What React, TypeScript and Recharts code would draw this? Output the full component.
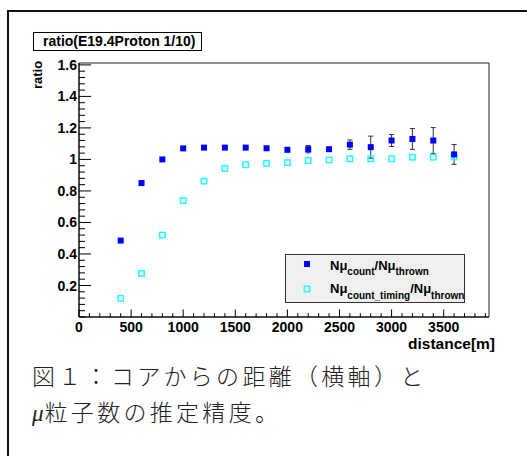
import React from 'react';
import { ScatterChart, Scatter, XAxis, YAxis, ErrorBar, ReferenceArea, Legend } from 'recharts';

// ---- data ----
const distances = [400, 600, 800, 1000, 1200, 1400, 1600, 1800, 2000, 2200, 2400, 2600, 2800, 3000, 3200, 3400, 3600];
const ratioCount = [0.485, 0.85, 1.0, 1.07, 1.075, 1.075, 1.075, 1.071, 1.061, 1.065, 1.065, 1.094, 1.078, 1.12, 1.13, 1.12, 1.032];
const ratioCountErr = [0, 0, 0, 0, 0, 0, 0, 0, 0, 0.023, 0.01, 0.03, 0.07, 0.038, 0.066, 0.082, 0.063];
const ratioCountTiming = [0.118, 0.276, 0.52, 0.738, 0.862, 0.942, 0.966, 0.975, 0.98, 0.993, 0.997, 1.004, 1.004, 1.004, 1.014, 1.014, 1.016];

const xMajorTicks = [0, 500, 1000, 1500, 2000, 2500, 3000, 3500];
const xTickLabels = ['0', '500', '1000', '1500', '2000', '2500', '3000', '3500'];
const yMajorTicks = [0.2, 0.4, 0.6, 0.8, 1.0, 1.2, 1.4, 1.6];
const yTickLabels = ['0.2', '0.4', '0.6', '0.8', '1', '1.2', '1.4', '1.6'];

const X_MAX = 3935;
const Y_MAX = 1.612;
const X_MINOR_STEP = 100;
const Y_MINOR_STEP = 0.04;

const xAllTicks = Array.from({ length: Math.floor(X_MAX / X_MINOR_STEP) + 1 }, (_, i) => i * X_MINOR_STEP);
const yAllTicks = Array.from({ length: 41 }, (_, i) => Math.round(i * Y_MINOR_STEP * 1000) / 1000);

const countData = distances.map((d, i) => ({ x: d, y: ratioCount[i], err: ratioCountErr[i] }));
const timingData = distances.map((d, i) => ({ x: d, y: ratioCountTiming[i] }));

const FONT = '"Liberation Sans", Arial, Helvetica, sans-serif';

function XTick(props: any) {
  const { x, y, payload } = props;
  const v = payload.value;
  const idx = xMajorTicks.indexOf(v);
  const major = idx >= 0;
  return (
    <g>
      <line x1={x} x2={x} y1={y} y2={y - (major ? 7.5 : 3.8)} stroke="#000" strokeWidth={1} />
      {major && (
        <text x={x} y={y + 15} textAnchor="middle" fontFamily={FONT} fontWeight="bold" fontSize={14} fill="#000">
          {xTickLabels[idx]}
        </text>
      )}
    </g>
  );
}

function YTick(props: any) {
  const { x, y, payload } = props;
  const v = payload.value;
  const idx = yMajorTicks.findIndex((m) => Math.abs(m - v) < 1e-6);
  const major = idx >= 0;
  return (
    <g>
      <line x1={x} x2={x + (major ? 12 : 6)} y1={y} y2={y} stroke="#000" strokeWidth={1} />
      {major && (
        <text x={x - 2} y={y} dy="0.36em" textAnchor="end" fontFamily={FONT} fontWeight="bold" fontSize={14} fill="#000">
          {yTickLabels[idx]}
        </text>
      )}
    </g>
  );
}

function BlueSquare(props: any) {
  const { cx, cy } = props;
  return <rect x={cx - 3} y={cy - 3} width={6} height={6} fill="#0000ff" />;
}

function CyanSquare(props: any) {
  const { cx, cy } = props;
  return <rect x={cx - 2.7} y={cy - 2.7} width={5.4} height={5.4} fill="none" stroke="#22ffff" strokeWidth={1.5} />;
}

function LegendBox() {
  const main = { fontFamily: FONT, fontWeight: 'bold' as const, fontSize: 13, fill: '#000' };
  return (
    <svg width={180} height={49} style={{ display: 'block' }}>
      <rect x={0.5} y={0.5} width={179} height={48} fill="#f0f0f0" stroke="#333" strokeWidth={1} />
      <rect x={19} y={7} width={6} height={6} fill="#0000ff" />
      <rect x={19.3} y={32.3} width={5.4} height={5.4} fill="none" stroke="#22ffff" strokeWidth={1.5} />
      <text x={45} y={16} {...main}>
        <tspan>Nμ</tspan>
        <tspan fontSize={10} dy={5}>count</tspan>
        <tspan dy={-5}>/Nμ</tspan>
        <tspan fontSize={10} dy={5}>thrown</tspan>
      </text>
      <text x={45} y={39} {...main}>
        <tspan>Nμ</tspan>
        <tspan fontSize={10} dy={6}>count_timing</tspan>
        <tspan dy={-6}>/Nμ</tspan>
        <tspan fontSize={10} dy={6}>thrown</tspan>
      </text>
    </svg>
  );
}

export default function App() {
  return (
    <div style={{ position: 'absolute', left: 0, top: 0, width: 527, height: 456, background: '#fff', overflow: 'hidden' }}>
      {/* outer page border */}
      <div style={{ position: 'absolute', left: 7, top: 10, width: 2, height: 446, background: '#111' }} />
      <div style={{ position: 'absolute', left: 7, top: 10, width: 520, height: 2, background: '#111' }} />

      <div style={{ position: 'absolute', left: 0, top: 0 }}>
        <ScatterChart width={527} height={360} margin={{ top: 63, right: 38, bottom: 0, left: 0 }}>
          <ReferenceArea x1={0} x2={X_MAX} y1={0} y2={Y_MAX} fill="none" stroke="#222" strokeWidth={1} ifOverflow="visible" />
          <XAxis
            type="number"
            dataKey="x"
            domain={[0, X_MAX]}
            ticks={xAllTicks}
            interval={0}
            tick={(p: any) => <XTick {...p} />}
            tickLine={false}
            tickSize={0}
            tickMargin={0}
            axisLine={{ stroke: '#000' }}
            height={43}
            allowDataOverflow
          />
          <YAxis
            type="number"
            dataKey="y"
            domain={[0, Y_MAX]}
            ticks={yAllTicks}
            interval={0}
            tick={(p: any) => <YTick {...p} />}
            tickLine={false}
            tickSize={0}
            tickMargin={0}
            axisLine={{ stroke: '#000' }}
            width={79}
            allowDataOverflow
          />
          <Legend
            layout="vertical"
            align="center"
            verticalAlign="middle"
            wrapperStyle={{ position: 'absolute', left: 285, top: 254, width: 180, height: 49 }}
            content={() => <LegendBox />}
          />
          <Scatter name="timing" data={timingData} shape={(p: any) => <CyanSquare {...p} />} isAnimationActive={false} />
          <Scatter name="count" data={countData} shape={(p: any) => <BlueSquare {...p} />} isAnimationActive={false}>
            <ErrorBar dataKey="err" direction="y" width={2.5} stroke="#333" strokeWidth={1} />
          </Scatter>
        </ScatterChart>
      </div>

      {/* histogram title box */}
      <div
        style={{
          position: 'absolute', left: 33, top: 32, width: 169, height: 19, boxSizing: 'border-box',
          border: '1px solid #000', background: '#fff', fontFamily: FONT, fontWeight: 'bold', fontSize: 14,
          lineHeight: '17px', paddingLeft: 9, whiteSpace: 'nowrap', color: '#000',
        }}
      >
        ratio(E19.4Proton 1/10)
      </div>

      {/* y axis title */}
      <div
        style={{
          position: 'absolute', left: 38 - 25, top: 75 - 8, width: 50, height: 16, textAlign: 'center',
          transform: 'rotate(-90deg)', fontFamily: FONT, fontWeight: 'bold', fontSize: 13, lineHeight: '16px', color: '#000',
        }}
      >
        ratio
      </div>

      {/* x axis title */}
      <div
        style={{
          position: 'absolute', left: 295, top: 336, width: 200, height: 18, textAlign: 'right',
          fontFamily: FONT, fontWeight: 'bold', fontSize: 15.5, lineHeight: '16px', color: '#000',
        }}
      >
        distance[m]
      </div>

      {/* caption */}
      <div
        style={{
          position: 'absolute', left: 32, top: 357, fontFamily: '"Noto Sans CJK JP", sans-serif', fontSize: 23,
          fontWeight: 300, lineHeight: '36px', letterSpacing: 3.3, color: '#222', whiteSpace: 'nowrap',
        }}
      >
        <div>図１：コアからの距離（横軸）と</div>
        <div>
          <span style={{ fontFamily: '"Liberation Serif", "DejaVu Serif", serif', fontStyle: 'italic', letterSpacing: 1 }}>μ</span>粒子数の推定精度。
        </div>
      </div>
    </div>
  );
}
